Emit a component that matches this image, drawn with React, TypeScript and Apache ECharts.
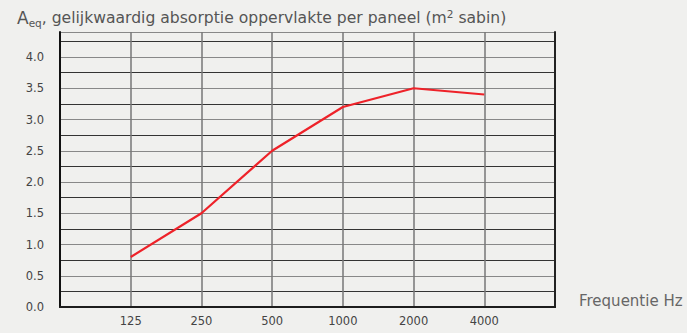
import React, { useEffect, useRef } from "react";
import * as echarts from "echarts";

const categories = ["", "125", "250", "500", "1000", "2000", "4000", ""];
const values: (number | null)[] = [null, 0.8, 1.5, 2.5, 3.2, 3.5, 3.4, null];
const yTickLabels = [0, 0.5, 1, 1.5, 2, 2.5, 3, 3.5, 4];
const titleMain = "gelijkwaardig absorptie oppervlakte per paneel (m";
const xAxisTitle = "Frequentie Hz";

export default function App() {
  const ref = useRef<HTMLDivElement>(null);
  useEffect(() => {
    if (!ref.current) return;
    const chart = echarts.init(ref.current, undefined, { renderer: "svg" });
    const font = "DejaVu Sans";
    chart.setOption({
      animation: false,
      backgroundColor: "#f0f0ee",
      textStyle: { fontFamily: font },
      grid: { left: 60, right: 132, top: 32, bottom: 26 },
      graphic: [
        {
          type: "text",
          left: 17,
          top: 7,
          style: {
            text: "{big|A}{sub|eq}{a|, " + titleMain + "}{sup|2}{a| sabin)}",
            rich: {
              big: { fontSize: 17, fontFamily: font, fill: "#555", lineHeight: 22 },
              a: { fontSize: 15.6, fontFamily: font, fill: "#555", lineHeight: 22 },
              sub: { fontSize: 10.5, fontFamily: font, fill: "#555", lineHeight: 22, padding: [10, 0, 0, 0] },
              sup: { fontSize: 10.5, fontFamily: font, fill: "#555", lineHeight: 22, padding: [0, 0, 8, 0] },
            },
          },
        },
        {
          type: "text",
          left: 579,
          top: 293,
          style: { text: xAxisTitle, fontSize: 15, fontFamily: font, fill: "#666" },
        },
      ],
      xAxis: [
        {
          type: "category",
          data: categories,
          boundaryGap: false,
          axisLine: { show: true, lineStyle: { color: "#111", width: 2 } },
          axisTick: { show: false },
          axisLabel: { color: "#444", fontSize: 11.5, margin: 8, fontFamily: font },
          splitLine: { show: true, lineStyle: { color: "#777", width: 1.5 } },
        },
        {
          type: "category",
          position: "top",
          data: categories,
          boundaryGap: false,
          axisLine: { show: true, lineStyle: { color: "#222", width: 1.5 } },
          axisTick: { show: false },
          axisLabel: { show: false },
          splitLine: { show: false },
        },
      ],
      yAxis: [
        {
          type: "value",
          min: 0,
          max: 4.4,
          interval: 0.25,
          axisLine: { show: true, lineStyle: { color: "#111", width: 2 } },
          axisTick: { show: false },
          axisLabel: {
            color: "#444",
            fontSize: 11.5,
            margin: 16,
            fontFamily: font,
            formatter: (v: number) => {
              const hit = yTickLabels.find((t) => Math.abs(t - v) < 1e-6);
              return hit === undefined ? "" : hit.toFixed(1);
            },
          },
          splitLine: { show: true, lineStyle: { color: ["#888", "#333"], width: 1.2 } },
        },
        {
          type: "value",
          position: "right",
          min: 0,
          max: 4.4,
          interval: 0.25,
          axisLine: { show: true, lineStyle: { color: "#222", width: 2 } },
          axisTick: { show: false },
          axisLabel: { show: false },
          splitLine: { show: false },
        },
      ],
      series: [
        {
          type: "line",
          data: values,
          symbol: "none",
          lineStyle: { color: "#ee2229", width: 2.2 },
          connectNulls: false,
          z: 5,
        },
      ],
    });
    return () => chart.dispose();
  }, []);
  return <div ref={ref} style={{ position: "fixed", left: 0, top: 0, width: 687, height: 333 }} />;
}
